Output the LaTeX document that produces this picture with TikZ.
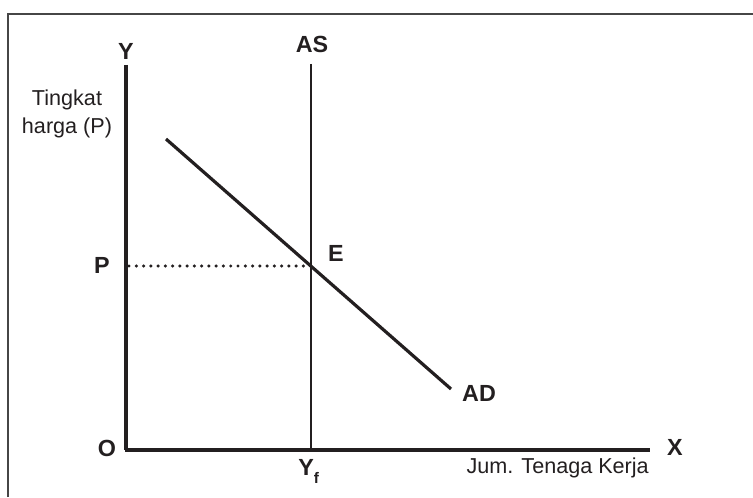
\documentclass[tikz,border=0pt]{standalone}
\usepackage{fontspec}
\setmainfont{Liberation Sans}
\usepackage{xcolor}

\begin{document}
\begin{tikzpicture}[x=0.75pt,y=0.75pt]
  \definecolor{ldark}{RGB}{35,31,32}
  \definecolor{lframe}{RGB}{70,70,70}
  \tikzset{
    lbl/.style={inner sep=0pt,text=ldark,font=\fontsize{17.5}{20}\selectfont\bfseries},
    txt/.style={inner sep=0pt,text=ldark,font=\fontsize{16.2}{20.5}\selectfont,align=center}
  }
  \useasboundingbox (0,0) rectangle (753,497);
  % frame
  \coordinate (fb) at (8,0);
  \coordinate (fc) at (8,483);
  \coordinate (fr) at (753,483);
  \draw[lframe,line width=1.1pt] (fb) -- (fc) -- (fr);
  % axes
  \coordinate (O) at (126,47);
  \coordinate (ytop) at (126,432);
  \coordinate (xend) at (650,47);
  \draw[ldark,line width=3.1pt] (ytop) -- (O);
  \draw[ldark,line width=2.5pt] (124.5,47) -- (xend);
  % AS and AD
  \coordinate (astop) at (311,433);
  \coordinate (asbot) at (311,47);
  \coordinate (adtop) at (166,358);
  \coordinate (adbot) at (451,108);
  \coordinate (E) at (311,231);
  \coordinate (pax) at (129,231);
  \draw[ldark,line width=1.1pt] (astop) -- (asbot);
  \draw[ldark,line width=2.4pt] (adtop) -- (adbot);
  \draw[ldark,line width=2.6pt,line cap=round,dash pattern=on 0pt off 5.45pt] (pax) -- (E);
  % labels
  \node[lbl] (ylbl) at (126,446) {Y};
  \node[lbl] (aslbl) at (312,453) {AS};
  \node[txt] (tingkat) at (67,383) {Tingkat\\harga (P)};
  \node[lbl] (plbl) at (102,232) {P};
  \node[lbl] (elbl) at (336,244) {E};
  \node[lbl] (adlbl) at (479,104) {AD};
  \node[lbl] (olbl) at (107,48.5) {O};
  \node[lbl] (xlbl) at (675,50) {X};
  \node[lbl,anchor=base west] (yflbl) at (298,22) {Y\raisebox{-6.5pt}{\fontsize{11.5}{12}\selectfont f}};
  \node[txt,anchor=east] (jum) at (649,29) {Jum. Tenaga Kerja};
\end{tikzpicture}
\end{document}
